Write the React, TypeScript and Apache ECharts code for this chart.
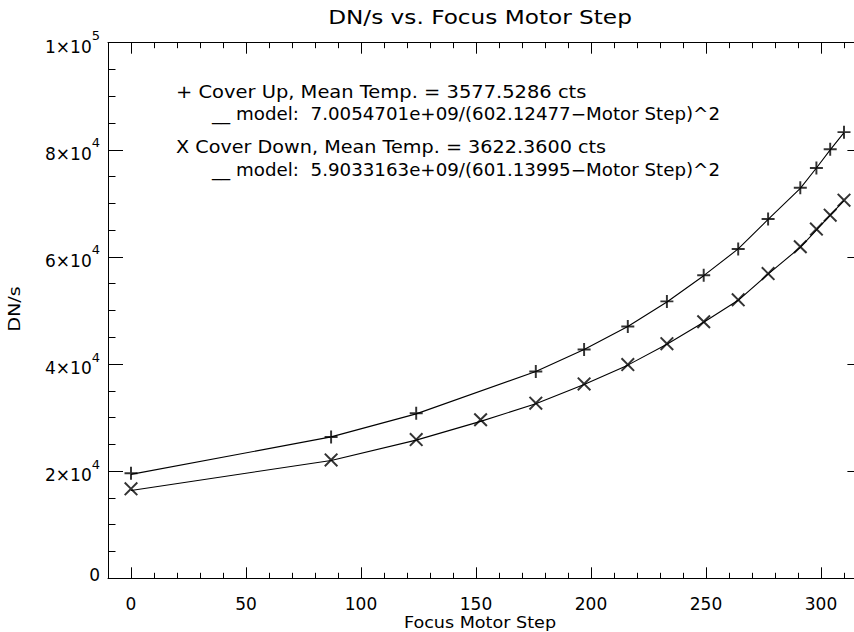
import React, { useEffect, useRef } from "react";
import * as echarts from "echarts";

const stepUp = [0, 87, 124, 176, 197, 216, 233, 249, 264, 277, 291, 298, 304, 310];
const dnUp = [19600, 26400, 30800, 38600, 42700, 47000, 51700, 56600, 61500, 67100, 72900, 76600, 80100, 83300];
const modelUp = [19400, 26400, 30700, 38600, 42700, 47000, 51600, 56500, 61500, 67000, 72800, 76600, 80000, 83200];

const stepDown = [0, 87, 124, 152, 176, 197, 216, 233, 249, 264, 277, 291, 298, 304, 310];
const dnDown = [16700, 22100, 25900, 29600, 32700, 36300, 39900, 43800, 47900, 52000, 56900, 61900, 65200, 67800, 70600];
const modelDown = [16400, 22000, 25800, 29300, 32600, 36200, 39800, 43700, 47800, 51900, 56800, 61800, 65000, 67800, 70500];

const xMajorTicks = [0, 50, 100, 150, 200, 250, 300];
const xMinorTicks = [10, 20, 30, 40, 60, 70, 80, 90, 110, 120, 130, 140, 160, 170, 180, 190, 210, 220, 230, 240, 260, 270, 280, 290, 310];

const titleText = "DN/s vs. Focus Motor Step";
const xName = "Focus Motor Step";
const yName = "DN/s";
const legendLines = [
  "+ Cover Up, Mean Temp. = 3577.5286 cts",
  "__ model:  7.0054701e+09/(602.12477\u2212Motor Step)^2",
  "X Cover Down, Mean Temp. = 3622.3600 cts",
  "__ model:  5.9033163e+09/(601.13995\u2212Motor Step)^2",
];

const FONT = "DejaVu Sans";
const PLUS = "path://M8.5,0h3v8.5h8.5v3h-8.5v8.5h-3v-8.5h-8.5v-3h8.5z";
const CROSS = "path://M0,2L2,0L10,8L18,0L20,2L12,10L20,18L18,20L10,12L2,20L0,18L8,10Z";

function pairs(xs: number[], ys: number[]) {
  return xs.map((x, i) => [x, ys[i]]);
}

function yFmt(v: number) {
  if (v === 0) return "{z|0}";
  const e = Math.floor(Math.log10(v) + 1e-9);
  const m = Math.round(v / Math.pow(10, e));
  return `{m|${m}\u00d710}{e|${e}}`;
}

export default function App() {
  const ref = useRef<HTMLDivElement>(null);
  useEffect(() => {
    if (!ref.current) return;
    const chart = echarts.init(ref.current, null, { renderer: "svg" });
    const axisLine = { show: true, onZero: false, lineStyle: { color: "#000", width: 1 } };
    const baseX = { type: "value", min: -10, max: 318, splitLine: { show: false } };
    const tickStyle = { color: "#000", width: 1 };
    const legendText = (i: number, x: number, y: number, sx: number) => ({
      type: "text",
      x,
      y,
      scaleX: sx,
      style: { text: legendLines[i], fill: "#000", font: `17px "${FONT}"`, align: "left", verticalAlign: "middle" },
    });
    const option: any = {
      animation: false,
      backgroundColor: "#fff",
      grid: { left: 108, top: 42.7, width: 754.4, height: 535.6, containLabel: false, outerBoundsMode: "none" },
      xAxis: [
        {
          ...baseX,
          position: "bottom",
          axisLine,
          axisTick: { inside: true, length: 11, customValues: xMajorTicks, lineStyle: tickStyle },
          axisLabel: { customValues: xMajorTicks, color: "#000", fontFamily: FONT, fontSize: 17, margin: 17 },
        },
        {
          ...baseX,
          position: "bottom",
          axisLine: { show: false, onZero: false },
          axisTick: { inside: true, length: 5.5, customValues: xMinorTicks, lineStyle: tickStyle },
          axisLabel: { show: false },
        },
        {
          ...baseX,
          position: "top",
          axisLine,
          axisTick: { inside: true, length: 11, customValues: xMajorTicks, lineStyle: tickStyle },
          axisLabel: { show: false },
        },
        {
          ...baseX,
          position: "top",
          axisLine: { show: false, onZero: false },
          axisTick: { inside: true, length: 5.5, customValues: xMinorTicks, lineStyle: tickStyle },
          axisLabel: { show: false },
        },
      ],
      yAxis: [
        {
          type: "value",
          min: 0,
          max: 100000,
          interval: 20000,
          position: "left",
          axisLine,
          splitLine: { show: false },
          axisTick: { inside: true, length: 15, lineStyle: tickStyle },
          minorTick: { show: true, splitNumber: 4, length: 7.5, lineStyle: tickStyle },
          axisLabel: {
            formatter: yFmt,
            color: "#000",
            fontFamily: FONT,
            fontSize: 17,
            margin: 8,
            padding: [8, 0, 0, 0],
            rich: {
              m: { fontFamily: FONT, fontSize: 17, color: "#000" },
              e: { fontFamily: FONT, fontSize: 13, color: "#000", padding: [0, 0, 22, 0] },
              z: { fontFamily: FONT, fontSize: 17, color: "#000", padding: [0, 0, 14, 0] },
            },
          },
        },
        {
          type: "value",
          min: 0,
          max: 100000,
          interval: 20000,
          position: "right",
          axisLine,
          splitLine: { show: false },
          axisTick: { inside: true, length: 15, lineStyle: tickStyle },
          minorTick: { show: true, splitNumber: 4, length: 7.5, lineStyle: tickStyle },
          axisLabel: { show: false },
        },
      ],
      series: [
        {
          type: "line",
          data: pairs(stepUp, modelUp),
          showSymbol: false,
          symbol: "none",
          lineStyle: { color: "#000", width: 1.1 },
          z: 2,
        },
        {
          type: "line",
          data: pairs(stepDown, modelDown),
          showSymbol: false,
          symbol: "none",
          lineStyle: { color: "#000", width: 1.1 },
          z: 2,
        },
        {
          type: "scatter",
          data: pairs(stepUp, dnUp),
          symbol: PLUS,
          symbolSize: 13,
          itemStyle: { color: "#000" },
          z: 3,
        },
        {
          type: "scatter",
          data: pairs(stepDown, dnDown),
          symbol: CROSS,
          symbolSize: 14,
          itemStyle: { color: "#000" },
          z: 3,
        },
      ],
      graphic: [
        {
          type: "text",
          x: 480,
          y: 17,
          scaleX: 1.16,
          style: { text: titleText, fill: "#000", font: `20px "${FONT}"`, align: "center", verticalAlign: "middle" },
        },
        {
          type: "text",
          x: 480,
          y: 622,
          scaleX: 1.1,
          style: { text: xName, fill: "#000", font: `16px "${FONT}"`, align: "center", verticalAlign: "middle" },
        },
        {
          type: "text",
          x: 15,
          y: 309,
          rotation: Math.PI / 2,
          scaleX: 1.2,
          style: { text: yName, fill: "#000", font: `16px "${FONT}"`, align: "center", verticalAlign: "middle" },
        },
        legendText(0, 176, 92, 1.145),
        legendText(1, 212, 114, 1.073),
        legendText(2, 176, 147, 1.13),
        legendText(3, 212, 170, 1.073),
      ],
    };
    chart.setOption(option);
    return () => chart.dispose();
  }, []);
  return (
    <div
      ref={ref}
      style={{ position: "fixed", left: 0, top: 0, width: 854, height: 632, background: "#fff" }}
    />
  );
}
